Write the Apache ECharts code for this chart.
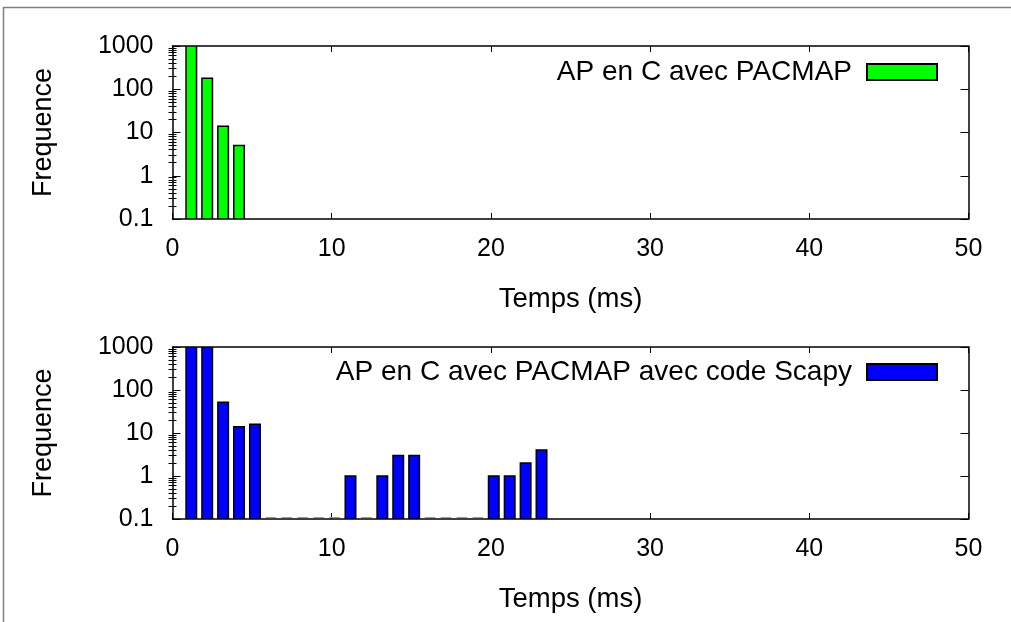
<!DOCTYPE html>
<html><head><meta charset="utf-8">
<script src="https://cdn.jsdelivr.net/npm/echarts@6/dist/echarts.min.js"></script>
<style>html,body{margin:0;padding:0;background:#fff}#c{width:1011px;height:622px}</style>
</head><body><div id="c"></div>
<script>
// ---- data ----
const seriesNames = ['AP en C avec PACMAP', 'AP en C avec PACMAP avec code Scapy'];
const timeTop = [1.18, 2.18, 3.18, 4.18];
const freqTop = [1000, 180, 14, 5];
const timeBottom = [1.18, 2.18, 3.18, 4.18, 5.18, 6.18, 7.18, 8.18, 9.18, 10.18, 11.18, 12.18,
  13.18, 14.18, 15.18, 16.18, 17.18, 18.18, 19.18, 20.18, 21.18, 22.18, 23.18];
const freqBottom = [1000, 1000, 52, 14, 16, 0, 0, 0, 0, 0, 1, 0,
  1, 3, 3, 0, 0, 0, 0, 1, 1, 2, 4];
const xTicks = [0, 10, 20, 30, 40, 50];
const yTickLabels = ['0.1', '1', '10', '100', '1000'];
const xName = 'Temps (ms)';
const yName = 'Frequence';

// ---- style ----
const FONT = '"Liberation Sans", Arial, Helvetica, sans-serif';
const Y_MIN = 0.1, Y_MAX = 1000, X_MIN = 0, X_MAX = 50;
const HALF_W = 0.33;
const minorVals = [];
for (let d = 0.1; d < 999; d *= 10) for (let k = 2; k <= 9; k++) minorVals.push(+(k * d).toPrecision(3));

const chart = echarts.init(document.getElementById('c'), null, {renderer: 'canvas'});

const grids = [
  {left: 172.5, right: 42.5, top: 46, height: 173},
  {left: 172.5, right: 42.5, top: 347, height: 172}
];

function xAxes(gi) {
  return [
    {type: 'value', gridIndex: gi, min: X_MIN, max: X_MAX, interval: 10, position: 'bottom',
      name: xName, nameLocation: 'middle', nameGap: 66,
      nameTextStyle: {fontFamily: FONT, fontSize: 27.5, color: '#000'},
      axisLine: {show: true, onZero: false, lineStyle: {color: '#000', width: 1.5}},
      axisTick: {show: true, inside: true, length: 6, lineStyle: {color: '#000', width: 1}},
      axisLabel: {show: true, margin: 18, fontFamily: FONT, fontSize: 25, color: '#000',
        formatter: v => String(xTicks[xTicks.indexOf(v)])},
      splitLine: {show: false}},
    {type: 'value', gridIndex: gi, min: X_MIN, max: X_MAX, interval: 10, position: 'top',
      axisLine: {show: true, onZero: false, lineStyle: {color: '#000', width: 1.5}},
      axisTick: {show: true, inside: true, length: 6, lineStyle: {color: '#000', width: 1}},
      axisLabel: {show: false}, splitLine: {show: false}}
  ];
}
function yAxes(gi) {
  const base = {type: 'log', logBase: 10, gridIndex: gi, min: Y_MIN, max: Y_MAX, splitLine: {show: false}};
  return [
    Object.assign({}, base, {position: 'left',
      name: yName, nameLocation: 'middle', nameGap: 115, nameRotate: 90,
      nameTextStyle: {fontFamily: FONT, fontSize: 27, color: '#000'},
      axisLine: {show: true, onZero: false, lineStyle: {color: '#000', width: 1.5}},
      axisTick: {show: true, inside: true, length: 8, lineStyle: {color: '#000', width: 1}},
      axisLabel: {show: true, margin: 19, fontFamily: FONT, fontSize: 25, color: '#000',
        formatter: v => yTickLabels[Math.round(Math.log10(v)) + 1]}}),
    Object.assign({}, base, {position: 'left',
      axisLine: {show: false},
      axisTick: {show: true, inside: true, length: 4, customValues: minorVals, lineStyle: {color: '#000', width: 1}},
      axisLabel: {show: false}}),
    Object.assign({}, base, {position: 'right',
      axisLine: {show: true, onZero: false, lineStyle: {color: '#000', width: 1.5}},
      axisTick: {show: true, inside: true, length: 8, lineStyle: {color: '#000', width: 1}},
      axisLabel: {show: false}}),
    Object.assign({}, base, {position: 'right',
      axisLine: {show: false},
      axisTick: {show: true, inside: true, length: 4, customValues: minorVals, lineStyle: {color: '#000', width: 1}},
      axisLabel: {show: false}})
  ];
}

function renderBar(params, api) {
  const x = api.value(0), v = api.value(1);
  const pb = api.coord([x + HALF_W, Y_MIN]);
  if (!(v > 0)) {
    const pa = api.coord([x - HALF_W, Y_MIN]);
    return {type: 'line', shape: {x1: pa[0], y1: pa[1] - 1.5, x2: pb[0], y2: pb[1] - 1.5},
      style: {stroke: '#999', lineWidth: 1}};
  }
  const pt = api.coord([x - HALF_W, Math.min(v, Y_MAX)]);
  return {type: 'rect', shape: {x: pt[0], y: pt[1], width: pb[0] - pt[0], height: pb[1] - pt[1]},
    style: api.style()};
}

const legendText = {fontFamily: FONT, fontSize: 28, color: '#000', lineHeight: 30, padding: [0, 10, 0, 0]};
const option = {
  animation: false,
  backgroundColor: '#fff',
  textStyle: {fontFamily: FONT},
  graphic: [{type: 'rect', shape: {x: 3.5, y: 7.5, width: 2000, height: 2000},
    style: {fill: 'none', stroke: '#808080', lineWidth: 1.5}, silent: true, z: -10}],
  grid: grids,
  xAxis: xAxes(0).concat(xAxes(1)),
  yAxis: yAxes(0).concat(yAxes(1)),
  legend: [
    {data: [seriesNames[0]], right: 73, top: 57, padding: 0, align: 'right', icon: 'rect',
      itemWidth: 70, itemHeight: 16, textStyle: legendText},
    {data: [seriesNames[1]], right: 73, top: 357, padding: 0, align: 'right', icon: 'rect',
      itemWidth: 70, itemHeight: 16, textStyle: legendText}
  ],
  series: [
    {name: seriesNames[0], type: 'custom', xAxisIndex: 0, yAxisIndex: 0, renderItem: renderBar,
      clip: true,
      itemStyle: {color: '#00ff00', borderColor: '#000', borderWidth: 1.5},
      encode: {x: 0, y: 1},
      data: timeTop.map((t, i) => [t, freqTop[i]])},
    {name: seriesNames[1], type: 'custom', xAxisIndex: 2, yAxisIndex: 4, renderItem: renderBar,
      clip: true,
      itemStyle: {color: '#0000ff', borderColor: '#000', borderWidth: 1.5},
      encode: {x: 0, y: 1},
      data: timeBottom.map((t, i) => [t, freqBottom[i]])}
  ]
};
chart.setOption(option);
</script></body></html>
